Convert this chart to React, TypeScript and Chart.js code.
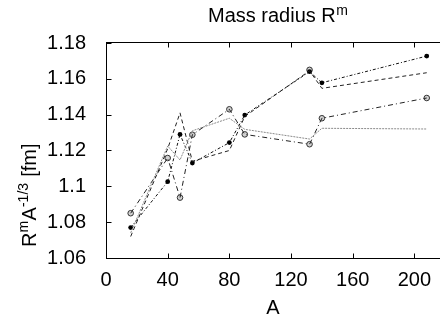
import React, { useEffect, useRef } from "react";
import { Chart, registerables } from "chart.js";

Chart.register(...registerables);

// Mass numbers A
const massNumbers = [16, 40, 48, 56, 80, 90, 132, 140, 208];
// R^m A^-1/3 [fm] for each curve
const filledDotValues = [1.077, 1.1026, 1.129, 1.113, 1.1244, 1.1398, 1.164, 1.1578, 1.1727];
const openCircleValues = [1.085, 1.1158, 1.0937, 1.1288, 1.143, 1.129, 1.1235, 1.138, 1.1493];
const dashedValues = [1.072, 1.121, 1.141, 1.114, 1.12, 1.139, 1.1645, 1.1547, 1.1634];
const dottedValues = [1.074, 1.1225, 1.1147, 1.131, 1.138, 1.1318, 1.1264, 1.1324, 1.132];
const extraOpenA = [132];
const extraOpenValues = [1.165];

const xTickValues = [0, 40, 80, 120, 160, 200];
const yTickValues = [1.06, 1.08, 1.1, 1.12, 1.14, 1.16, 1.18];

const FONT = "Liberation Sans, Arial, Helvetica, sans-serif";

const toPoints = (xs: number[], ys: number[]) => xs.map((x, i) => ({ x, y: ys[i] }));

const framePlugin = {
  id: "frameAndTexts",
  afterDraw(chart: any) {
    const { ctx, chartArea } = chart;
    const { left, right, top, bottom } = chartArea;
    const xs = chart.scales.x;
    const ys = chart.scales.y;
    ctx.save();
    ctx.strokeStyle = "#000";
    ctx.lineWidth = 1;
    ctx.beginPath();
    const L = Math.round(left) + 0.5;
    const B = Math.round(bottom) + 0.5;
    const T = Math.round(top) - 0.5;
    ctx.moveTo(L, T);
    ctx.lineTo(L, B);
    ctx.moveTo(L - 0.5, B);
    ctx.lineTo(right, B);
    ctx.moveTo(L - 0.5, T);
    ctx.lineTo(right, T);
    const tl = 5;
    xTickValues.forEach((v) => {
      const px = Math.round(xs.getPixelForValue(v)) + 0.5;
      ctx.moveTo(px, B);
      ctx.lineTo(px, B - tl);
      ctx.moveTo(px, T);
      ctx.lineTo(px, T + tl);
    });
    yTickValues.forEach((v) => {
      const py = Math.round(ys.getPixelForValue(v)) + 0.5;
      ctx.moveTo(L, py);
      ctx.lineTo(L + tl, py);
    });
    ctx.stroke();

    // Title with superscript
    ctx.fillStyle = "#000";
    ctx.textBaseline = "alphabetic";
    ctx.textAlign = "left";
    ctx.font = `20px ${FONT}`;
    const titleMain = "Mass radius R";
    const tx = 208;
    const tyBase = 22;
    ctx.fillText(titleMain, tx, tyBase);
    const w = ctx.measureText(titleMain).width;
    ctx.font = `14px ${FONT}`;
    ctx.fillText("m", tx + w + 0.5, tyBase - 7);

    // Y axis label rotated with superscripts
    ctx.translate(36, 247);
    ctx.rotate(-Math.PI / 2);
    let cx = 0;
    const parts: [string, boolean][] = [
      ["R", false],
      ["m", true],
      ["A", false],
      ["-1/3", true],
      [" [fm]", false],
    ];
    parts.forEach(([t, sup]) => {
      ctx.font = sup ? `14px ${FONT}` : `20px ${FONT}`;
      ctx.fillText(t, cx, sup ? -8 : 0);
      cx += ctx.measureText(t).width + (sup ? 0.5 : 0);
    });
    ctx.restore();
  },
};

export default function App() {
  const ref = useRef<HTMLCanvasElement | null>(null);
  useEffect(() => {
    if (!ref.current) return;
    const lineBase = {
      fill: false,
      tension: 0,
      borderWidth: 1,
    };
    const chart = new Chart(ref.current, {
      type: "line",
      data: {
        datasets: [
          {
            ...lineBase,
            label: "dotted",
            data: toPoints(massNumbers, dottedValues),
            borderColor: "#8a8a8a",
            borderDash: [2, 1],
            pointRadius: 0,
          },
          {
            ...lineBase,
            label: "dashed",
            data: toPoints(massNumbers, dashedValues),
            borderColor: "#222",
            borderDash: [4, 3],
            pointRadius: 0,
          },
          {
            ...lineBase,
            label: "open",
            data: toPoints(massNumbers, openCircleValues),
            borderColor: "#222",
            borderDash: [5, 3, 1, 3],
            pointRadius: 2.8,
            pointBackgroundColor: "rgba(0,0,0,0.18)",
            pointBorderColor: "#333",
            pointBorderWidth: 1,
          },
          {
            ...lineBase,
            label: "filled",
            data: toPoints(massNumbers, filledDotValues),
            borderColor: "#111",
            borderDash: [3, 2, 1, 2],
            pointRadius: 2.4,
            pointBackgroundColor: "#000",
            pointBorderColor: "#000",
            pointBorderWidth: 0,
          },
          {
            label: "extra",
            data: toPoints(extraOpenA, extraOpenValues),
            showLine: false,
            borderColor: "#333",
            pointRadius: 2.8,
            pointBackgroundColor: "rgba(0,0,0,0.18)",
            pointBorderColor: "#333",
            pointBorderWidth: 1,
          },
        ],
      },
      options: {
        responsive: false,
        animation: false,
        layout: { padding: { top: 43, right: 0, left: 0, bottom: 0 } },
        plugins: {
          legend: { display: false },
          title: { display: false },
          tooltip: { enabled: false },
        },
        scales: {
          x: {
            type: "linear",
            min: 0,
            max: 216.6,
            afterFit: (s: any) => {
              s.height = 68;
            },
            grid: { display: false },
            border: { display: false },
            ticks: {
              stepSize: 40,
              includeBounds: false,
              padding: 2,
              color: "#000",
              font: { family: FONT, size: 20 },
              maxRotation: 0,
            },
            title: {
              display: true,
              text: "A",
              color: "#000",
              font: { family: FONT, size: 20 },
              padding: { top: 0, bottom: 6 },
            },
          },
          y: {
            min: 1.06,
            max: 1.18,
            afterFit: (s: any) => {
              s.width = 106;
            },
            grid: { display: false },
            border: { display: false },
            ticks: {
              stepSize: 0.02,
              padding: 12,
              color: "#000",
              font: { family: FONT, size: 20 },
              callback: (v: any) => String(Number(Number(v).toFixed(2))),
            },
          },
        },
      },
      plugins: [framePlugin],
    } as any);
    return () => chart.destroy();
  }, []);
  return (
    <div style={{ position: "absolute", left: 0, top: 0, width: 445, height: 326, background: "#fff" }}>
      <canvas ref={ref} width={445} height={326} />
    </div>
  );
}
